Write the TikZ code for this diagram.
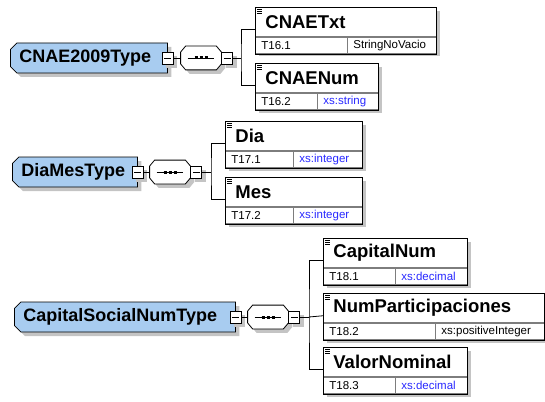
\documentclass[tikz,border=0pt]{standalone}
\usepackage{fontspec}
\setmainfont{Liberation Sans}
\usetikzlibrary{shapes.misc}
\usetikzlibrary{shadows}

\definecolor{typefill}{RGB}{168,204,240}
\definecolor{xsblue}{RGB}{40,40,255}
\definecolor{shadowgray}{RGB}{196,196,196}
\definecolor{cellline}{RGB}{125,125,125}

\tikzset{boxshadow/.style = {drop shadow = {shadow xshift = 4pt, shadow yshift = -4pt, fill = shadowgray, opacity = 1}}}
\tikzset{typebox/.style = {chamfered rectangle, chamfered rectangle corners = {north west, south west},
    chamfered rectangle xsep = 3pt, draw, fill = typefill, anchor = west, inner xsep = 6pt, inner ysep = 0,
    minimum height = 30pt, align = left, font = \fontsize{18}{20}\selectfont\bfseries, boxshadow}}
\tikzset{seqbox/.style = {rectangle, inner sep = 0, minimum width = 40pt, minimum height = 23pt}}
\tikzset{octshadow/.style = {fill = white, preaction = {fill = shadowgray, transform canvas = {shift = {(4pt, -4pt)}}}}}
\tikzset{minus/.style = {draw, fill = white, inner sep = 0, minimum width = 11pt, minimum height = 12pt, boxshadow,
    path picture = {\draw[black] ([xshift = 2pt]path picture bounding box.west) -- ([xshift = -2pt]path picture bounding box.east);}}}
\tikzset{elname/.style = {draw = cellline, fill = white, anchor = north west, inner xsep = 10pt, inner ysep = 0,
    minimum height = 29pt, align = left, font = \fontsize{18.5}{20}\selectfont\bfseries}}
\tikzset{elcell/.style = {draw = cellline, fill = white, anchor = north west, inner xsep = 6pt, inner ysep = 0,
    minimum height = 16.5pt, align = left, font = \fontsize{11.5}{13}\selectfont}}

\newcommand{\xs}[1]{\textcolor{xsblue}{xs:#1}}
\newcommand{\seqnode}[3]{%
  \node[seqbox] (#1) at (#2, #3) {};
  \draw[octshadow] ([xshift = 5pt]#1.north west) -- ([xshift = -5pt]#1.north east)
    -- ([yshift = -6pt]#1.north east) -- ([yshift = 6pt]#1.south east)
    -- ([xshift = -5pt]#1.south east) -- ([xshift = 5pt]#1.south west)
    -- ([yshift = 6pt]#1.south west) -- ([yshift = -6pt]#1.north west) -- cycle;
  \draw ([xshift = 7pt]#1.west) -- ([xshift = -7pt]#1.east);
  \foreach \dx in {-5, 0, 5}
    \draw[line width = 3pt] ([xshift = \dx pt - 1.5pt]#1.center) -- ([xshift = \dx pt + 1.5pt]#1.center);
}
\newcommand{\elem}[8]{%
  \pgfmathsetmacro\elw{#4 - 20}
  \pgfmathsetmacro\idw{#5 - 12}
  \pgfmathsetmacro\tyw{#4 - #5 - 12}
  \fill[shadowgray] (#2 + 4, #3 + 4) rectangle ++(#4, 45.5);
  \node[elname, text width = \elw pt] (#1) at (#2, #3) {#6};
  \node[elcell, text width = \idw pt] (#1-id) at (#1.south west) {#7};
  \node[elcell, text width = \tyw pt, anchor = north east] (#1-ty) at (#1.south east) {#8};
  \draw (#1.north west) rectangle (#1-ty.south east);
  \draw[line width = 0.6pt] ([shift = {(2, 2.5)}]#1.north west) -- ++(5, 0)
    ([shift = {(2, 4.5)}]#1.north west) -- ++(5, 0)
    ([shift = {(2, 6.5)}]#1.north west) -- ++(5, 0);
  \coordinate (#1-w) at (#2, #3 + 22.75);
}

\begin{document}
\begin{tikzpicture}[x = 1pt, y = -1pt, line width = 0.8pt]
  \useasboundingbox (0, 0) rectangle (545, 401);

  % CNAE2009Type
  \node[typebox, text width = 139pt] (cnae) at (10, 58) {CNAE2009Type};
  \node[minus] (cnaeM) at (cnae.east) {};
  \seqnode{seqA}{201}{58}
  \node[minus, anchor = west] (seqAM) at (seqA.east) {};
  \draw (cnaeM.east) -- (seqA.west);
  \elem{cnaetxt}{255}{7}{181}{92}{CNAETxt}{T16.1}{StringNoVacio}
  \elem{cnaenum}{255}{63}{123}{62}{CNAENum}{T16.2}{\xs{string}}
  \coordinate (brA) at (241, 58);
  \draw (seqAM.east) -- (brA);
  \draw (cnaetxt-w) -| (brA) |- (cnaenum-w);

  % DiaMesType
  \node[typebox, text width = 107pt] (diames) at (12, 172) {DiaMesType};
  \node[minus] (diamesM) at (diames.east) {};
  \seqnode{seqB}{170}{172}
  \node[minus, anchor = west] (seqBM) at (seqB.east) {};
  \draw (diamesM.east) -- (seqB.west);
  \elem{dia}{225}{121}{137}{68}{Dia}{T17.1}{\xs{integer}}
  \elem{mes}{225}{177}{137}{68}{Mes}{T17.2}{\xs{integer}}
  \coordinate (brB) at (211, 172);
  \draw (seqBM.east) -- (brB);
  \draw (dia-w) -| (brB) |- (mes-w);

  % CapitalSocialNumType
  \node[typebox, text width = 203pt] (capital) at (14, 317) {CapitalSocialNumType};
  \node[minus] (capitalM) at (capital.east) {};
  \seqnode{seqC}{268}{317}
  \node[minus, anchor = west] (seqCM) at (seqC.east) {};
  \draw (capitalM.east) -- (seqC.west);
  \elem{capitalnum}{323}{238}{144}{72}{CapitalNum}{T18.1}{\xs{decimal}}
  \elem{numpart}{323}{293}{221}{112}{NumParticipaciones}{T18.2}{xs:positiveInteger}
  \elem{valornominal}{323}{347}{144}{72}{ValorNominal}{T18.3}{\xs{decimal}}
  \coordinate (brC) at (309, 317);
  \draw (seqCM.east) -- (brC);
  \draw (capitalnum-w) -| (brC) |- (valornominal-w);
  \draw (brC) -- (numpart-w);
\end{tikzpicture}
\end{document}
